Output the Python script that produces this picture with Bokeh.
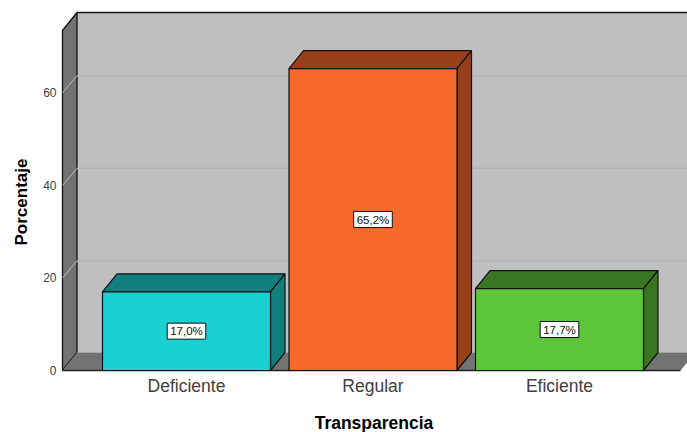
from bokeh.plotting import figure
from bokeh.models import ColumnDataSource, FixedTicker, Range1d, Title
from bokeh.core.properties import value
from bokeh.embed import file_html
from bokeh.resources import INLINE

categories = ["Deficiente", "Regular", "Eficiente"]
values = [17.0, 65.2, 17.7]
labels = ["17,0%", "65,2%", "17,7%"]
front_colors = ["#1BD0D0", "#F5692A", "#5CC53A"]
side_colors = ["#127F7F", "#963F18", "#3A7522"]
y_ticks = [0, 20, 40, 60]

PX_X = 186.5
PX_Y = 4.63
DX = 14.5 / PX_X
DY = 18 / PX_Y
GRID_DY = 17 / PX_Y
HALF = 84 / PX_X
WALL_L = (62 - 186) / PX_X
WALL_R = (680 - 186) / PX_X
WALL_TOP = (370 - 30) / PX_Y

p = figure(width=687, height=432, output_backend="svg", toolbar_location=None,
           x_range=Range1d((60 - 186) / PX_X, (687 - 186) / PX_X),
           y_range=Range1d(-2 / PX_Y, (370 - 10) / PX_Y),
           min_border_left=60, min_border_right=0, min_border_top=10, min_border_bottom=60,
           frame_width=627, frame_height=362,
           x_axis_label="Transparencia")
p.outline_line_color = None
p.grid.visible = False
p.background_fill_color = "white"

# walls and floor
p.quad(left=WALL_L + DX, right=WALL_R + DX, bottom=DY, top=WALL_TOP + DY,
       fill_color="#BFBFBF", line_color=None)
p.patch([WALL_L, WALL_L + DX, WALL_L + DX, WALL_L],
        [0, DY, WALL_TOP + DY, WALL_TOP], fill_color="#737373", line_color="#111111", line_width=1.3)
p.patch([WALL_L, WALL_L + DX, WALL_R + DX, WALL_R],
        [0, DY, DY, 0], fill_color="#737373", line_color=None)
p.segment(WALL_L + DX, WALL_TOP + DY, WALL_R + DX, WALL_TOP + DY, line_color="#111111", line_width=1.6)
p.segment(WALL_L, 0, WALL_R, 0, line_color="#222222", line_width=1.3)

# gridlines
gy = [t for t in y_ticks if t > 0]
p.segment([WALL_L + DX] * 3, [t + GRID_DY for t in gy], [WALL_R + DX] * 3, [t + GRID_DY for t in gy],
          line_color="#B4B4B4", line_width=1.5)
p.segment([WALL_L] * 3, gy, [WALL_L + DX] * 3, [t + GRID_DY for t in gy],
          line_color="#BEBEBE", line_width=1)

# bars
for i, v in enumerate(values):
    l, r = i - HALF, i + HALF
    p.patch([l, l + DX, r + DX, r], [v, v + DY, v + DY, v],
            fill_color=side_colors[i], line_color="#111111", line_width=1.2)
    p.patch([r, r + DX, r + DX, r], [0, DY, v + DY, v],
            fill_color=side_colors[i], line_color="#111111", line_width=1.2)
    p.quad(left=l, right=r, bottom=0, top=v, fill_color=front_colors[i],
           line_color="#111111", line_width=1.2)

src = ColumnDataSource(dict(x=list(range(3)), y=[v / 2 for v in values], t=labels))
p.text(x="x", y="y", text="t", source=src, text_align="center", text_baseline="middle",
       text_font=value("Liberation Sans"), text_font_size="11.5px", text_color="#111111",
       background_fill_color="white", border_line_color="#111111", border_line_width=1,
       padding=(3, 2))

ax = p.xaxis[0]
ax.ticker = FixedTicker(ticks=[0, 1, 2])
ax.major_label_overrides = {i: c for i, c in enumerate(categories)}
ax.major_label_text_font = "Liberation Sans"
ax.major_label_text_font_size = "17.5px"
ax.major_label_text_color = "#404040"
ax.major_label_standoff = -3
ax.axis_line_color = None
ax.major_tick_line_color = None
ax.minor_tick_line_color = None
ax.axis_label_text_font = "Liberation Sans"
ax.axis_label_text_font_size = "17.5px"
ax.axis_label_text_font_style = "bold"
ax.axis_label_text_color = "#000000"
ax.axis_label_standoff = 14

ay = p.yaxis[0]
ay.ticker = FixedTicker(ticks=y_ticks)
ay.major_label_text_font = "Liberation Sans"
ay.major_label_text_font_size = "12px"
ay.major_label_text_color = "#404040"
ay.major_label_standoff = -2
ay.axis_line_color = None
ay.major_tick_line_color = None
ay.minor_tick_line_color = None

p.add_layout(Title(text="Porcentaje", align="left", offset=127, standoff=19,
                   text_font="Liberation Sans", text_font_size="17px", text_font_style="bold",
                   text_color="#000000"), "left")

open("out.html", "w").write(file_html(p, INLINE))
